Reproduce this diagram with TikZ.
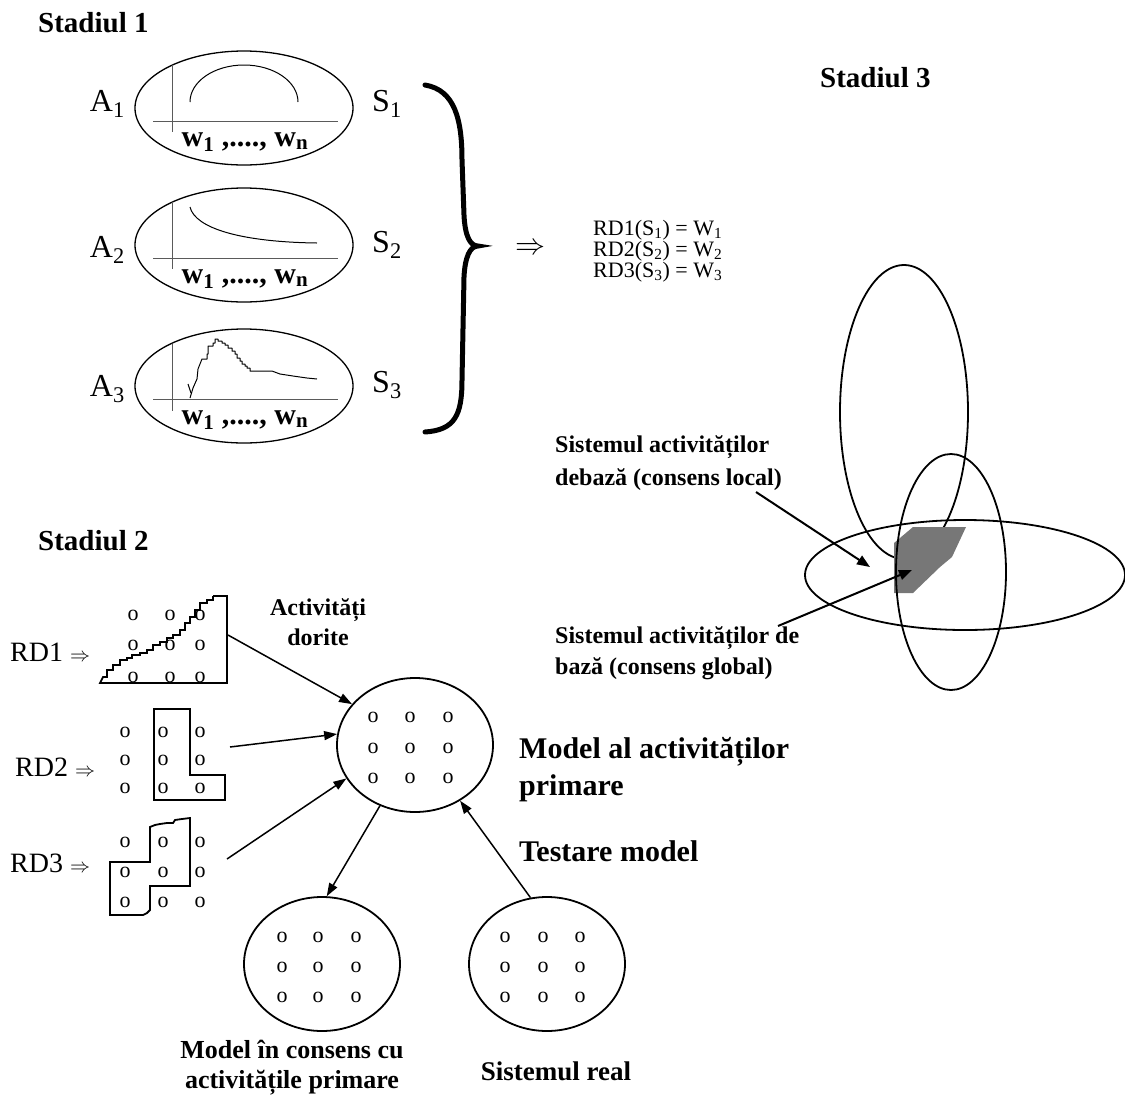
\documentclass[tikz,border=0pt]{standalone}
\usepackage{fontspec}
\usepackage{graphicx}
\setmainfont{Liberation Serif}
\usetikzlibrary{arrows.meta,shapes.geometric}
\definecolor{axisgray}{RGB}{90,90,90}
\definecolor{coreshade}{RGB}{119,119,119}
\newcommand{\impliesto}[1]{\resizebox{#1}{!}{$\Rightarrow$}}

\begin{document}
\begin{tikzpicture}[x=1pt,y=-1pt,
  oval/.style={draw, ellipse, line width=1.3pt, inner sep=0pt, minimum width=218pt, minimum height=114pt},
  bigoval/.style={draw, ellipse, line width=1.8pt, inner sep=0pt, minimum width=156pt, minimum height=134pt},
  axisline/.style={draw=axisgray, line width=1pt},
  plotline/.style={line width=1pt, line join=round},
  region/.style={line width=1.8pt, line join=miter},
  arr/.style={line width=1.5pt, -{Triangle[length=13pt,width=9pt]}},
  arrthick/.style={line width=2pt, -{Triangle[length=13pt,width=10pt]}},
  stage/.style={font=\fontsize{29}{33}\selectfont\bfseries, inner sep=0pt},
  side/.style={font=\fontsize{32}{34}\selectfont, inner sep=0pt},
  wlab/.style={font=\fontsize{30}{32}\selectfont\bfseries, inner sep=0pt},
  dot/.style={font=\fontsize{22}{22}\selectfont, inner sep=0pt},
  note/.style={font=\fontsize{24}{33}\selectfont\bfseries, inner sep=0pt},
  cnote/.style={font=\fontsize{26}{33}\selectfont\bfseries, inner sep=0pt},
  big/.style={font=\fontsize{30}{38}\selectfont\bfseries, inner sep=0pt},
  rdlab/.style={font=\fontsize{28}{30}\selectfont, inner sep=0pt},
  eqn/.style={font=\fontsize{22}{21}\selectfont, inner sep=0pt, align=left},
]
\useasboundingbox (0,0) rectangle (1125,1104);

% ---------------- Stage 1 ----------------
\node[stage, anchor=base west] (st1) at (38,32) {Stadiul 1};

% first plot: a hump
\node[oval] (e1) at (244,108) {};
\draw[axisline] (172,65) -- (172,132);
\draw[axisline] (153,121) -- (338,121);
\draw[plotline] (190,102) arc[start angle=180, end angle=360, x radius=54, y radius=37];
\node[wlab, anchor=base] (w1) at (245,146) {w\textsubscript{1} ,...., w\textsubscript{n}};
\node[side, anchor=base east] (a1) at (125,111) {A\textsubscript{1}};
\node[side, anchor=base west] (s1) at (372,111) {S\textsubscript{1}};

% second plot: a decaying curve
\node[oval] (e2) at (244,245) {};
\draw[axisline] (172,202) -- (172,269);
\draw[axisline] (153,258) -- (338,258);
\draw[plotline] (190,207) .. controls (195,228) and (240,242) .. (317,243);
\node[wlab, anchor=base] (w2) at (245,283) {w\textsubscript{1} ,...., w\textsubscript{n}};
\node[side, anchor=base east] (a2) at (125,257) {A\textsubscript{2}};
\node[side, anchor=base west] (s2) at (372,252) {S\textsubscript{2}};

% third plot: a noisy peak
\node[oval] (e3) at (244,386) {};
\draw[axisline] (172,344) -- (172,411);
\draw[axisline] (153,399) -- (338,399);
\begin{scope}[shift={(0,399)}]
  \draw[plotline] (190,-1) -- (193,-11) -- (197,-20) -- (198,-30) -- (202,-40) -| (207,-45) -| (208,-53)
    -| (213,-56) -| (215,-60) -- (218,-60) |- (222,-58) |- (225,-56) |- (228,-54) |- (232,-51)
    |- (235,-48) |- (237,-45) |- (240,-41) |- (242,-38) |- (245,-35) |- (247,-33) |- (250,-31)
    |- (252,-28) -- (272,-28) -- (280,-25) -- (293,-23) -- (307,-21) -- (317,-20);
  \draw[plotline] (188,-15) -- (191,-6);
\end{scope}
\node[wlab, anchor=base] (w3) at (245,424) {w\textsubscript{1} ,...., w\textsubscript{n}};
\node[side, anchor=base east] (a3) at (125,396) {A\textsubscript{3}};
\node[side, anchor=base west] (s3) at (372,392) {S\textsubscript{3}};

% brace gathering the three results
\draw[line width=5pt, line cap=round]
  (425,85) .. controls (455,90) and (462,120) .. (462,160) -- (464,215)
  .. controls (465,236) and (470,246) .. (478,246)
  .. controls (470,246) and (465,257) .. (464,277) -- (462,380)
  .. controls (462,415) and (455,430) .. (425,432);
\node[inner sep=0pt] (impl) at (530,249) {\impliesto{30pt}};

\node[eqn, anchor=north west] (eqs) at (593,220)
  {RD1(S\textsubscript{1}) = W\textsubscript{1}\\
   RD2(S\textsubscript{2}) = W\textsubscript{2}\\
   RD3(S\textsubscript{3}) = W\textsubscript{3}};

% ---------------- Stage 3 ----------------
\node[stage, anchor=base west] (st3) at (820,87) {Stadiul 3};

\draw[line width=1.8pt] (904,412) ellipse[x radius=64, y radius=147];
\draw[line width=1.8pt] (965,575) ellipse[x radius=160, y radius=55];
\fill[coreshade] (913,527) -- (966,527) -- (952,557) -- (940,567) -- (913,593) -- (894,593) -- (894,543) -- cycle;
\draw[line width=1.8pt] (951,572) ellipse[x radius=55, y radius=118];

\node[note, anchor=base west] (loc1) at (555,452) {Sistemul activităților};
\node[note, anchor=base west] (loc2) at (555,485) {debază (consens local)};
\node[note, anchor=base west] (glo1) at (555,643) {Sistemul activităților de};
\node[note, anchor=base west] (glo2) at (555,674) {bază (consens global)};

\coordinate (locS) at (756,492);
\coordinate (locT) at (870,567);
\coordinate (gloS) at (778,626);
\coordinate (gloT) at (912,570);
\draw[arrthick] (locS) -- (locT);
\draw[arrthick] (gloS) -- (gloT);

% ---------------- Stage 2 ----------------
\node[stage, anchor=base west] (st2) at (38,550) {Stadiul 2};

% desired activities RD1
\node[rdlab, anchor=base west] (rd1) at (10,661) {RD1 \impliesto{20pt}};
\draw[region] (213,596) -- (227,596) -- (227,683) -- (100,683) -- (103,677) -| (107,670) -| (113,665)
  -| (120,660) -| (127,658) -| (132,655) -| (140,653) -| (147,650) -| (153,645) -| (160,642)
  -| (167,638) -| (173,635) -| (180,630) -| (185,623) -| (190,617) -| (195,610) -| (200,603)
  -| (207,600) -| (213,596);
\foreach \c [count=\i] in {133,170,200}
  \foreach \r [count=\j] in {615,645,677}
    \node[dot, anchor=base] (ra-\i-\j) at (\c,\r+5) {o};

% RD2
\node[rdlab, anchor=base west] (rd2) at (15,776) {RD2 \impliesto{20pt}};
\draw[region] (154,709) -- (190,709) -- (190,775) -- (225,775) -- (225,800) -- (154,800) -- cycle;
\foreach \c [count=\i] in {125,163,200}
  \foreach \r [count=\j] in {732,760,788}
    \node[dot, anchor=base] (rb-\i-\j) at (\c,\r+5) {o};

% RD3
\node[rdlab, anchor=base west] (rd3) at (10,872) {RD3 \impliesto{20pt}};
\draw[region] (110,862) -- (150,862) -- (150,827) -- (155,825) -- (160,824) -- (167,823) -- (173,823)
  -- (175,820) -- (182,819) -- (190,818) -- (190,886) -- (150,886) -- (150,910) -- (147,913)
  -- (143,915) -- (110,915) -- cycle;
\foreach \c [count=\i] in {125,163,200}
  \foreach \r [count=\j] in {842,872,902}
    \node[dot, anchor=base] (rc-\i-\j) at (\c,\r+5) {o};

\node[note, anchor=base] (act1) at (318,615) {Activități};
\node[note, anchor=base] (act2) at (318,645) {dorite};

% model of primary activities
\node[bigoval] (m) at (415,745) {};
\foreach \c [count=\i] in {373,410,448}
  \foreach \r [count=\j] in {717,748,778}
    \node[dot, anchor=base] (mm-\i-\j) at (\c,\r+5) {o};
\node[big, anchor=base west] (mod1) at (519,758) {Model al activităților};
\node[big, anchor=base west] (mod2) at (519,795) {primare};
\node[big, anchor=base west] (test) at (519,861) {Testare model};

% consensus model
\node[bigoval] (cm) at (322,964) {};
\foreach \c [count=\i] in {282,318,356}
  \foreach \r [count=\j] in {937,967,997}
    \node[dot, anchor=base] (cc-\i-\j) at (\c,\r+5) {o};
\node[cnote, anchor=base] (cml1) at (292,1058) {Model în consens cu};
\node[cnote, anchor=base] (cml2) at (292,1088) {activitățile primare};

% real system
\node[bigoval] (rs) at (547,964) {};
\foreach \c [count=\i] in {505,543,580}
  \foreach \r [count=\j] in {937,967,997}
    \node[dot, anchor=base] (rr-\i-\j) at (\c,\r+5) {o};
\node[big, font=\fontsize{27}{30}\selectfont\bfseries, anchor=base] (rsl) at (556,1080) {Sistemul real};

% connectors
\coordinate (rd1out) at (228,635);
\coordinate (rd2out) at (230,747);
\coordinate (rd3out) at (227,859);
\draw[arr] (rd1out) -- (m.147);
\draw[arr] (rd2out) -- (m.172);
\draw[arr] (rd3out) -- (m.206);
\draw[arr] (m.240) -- (cm.86);
\draw[arr] (rs.104) -- (m.309);

\end{tikzpicture}
\end{document}
